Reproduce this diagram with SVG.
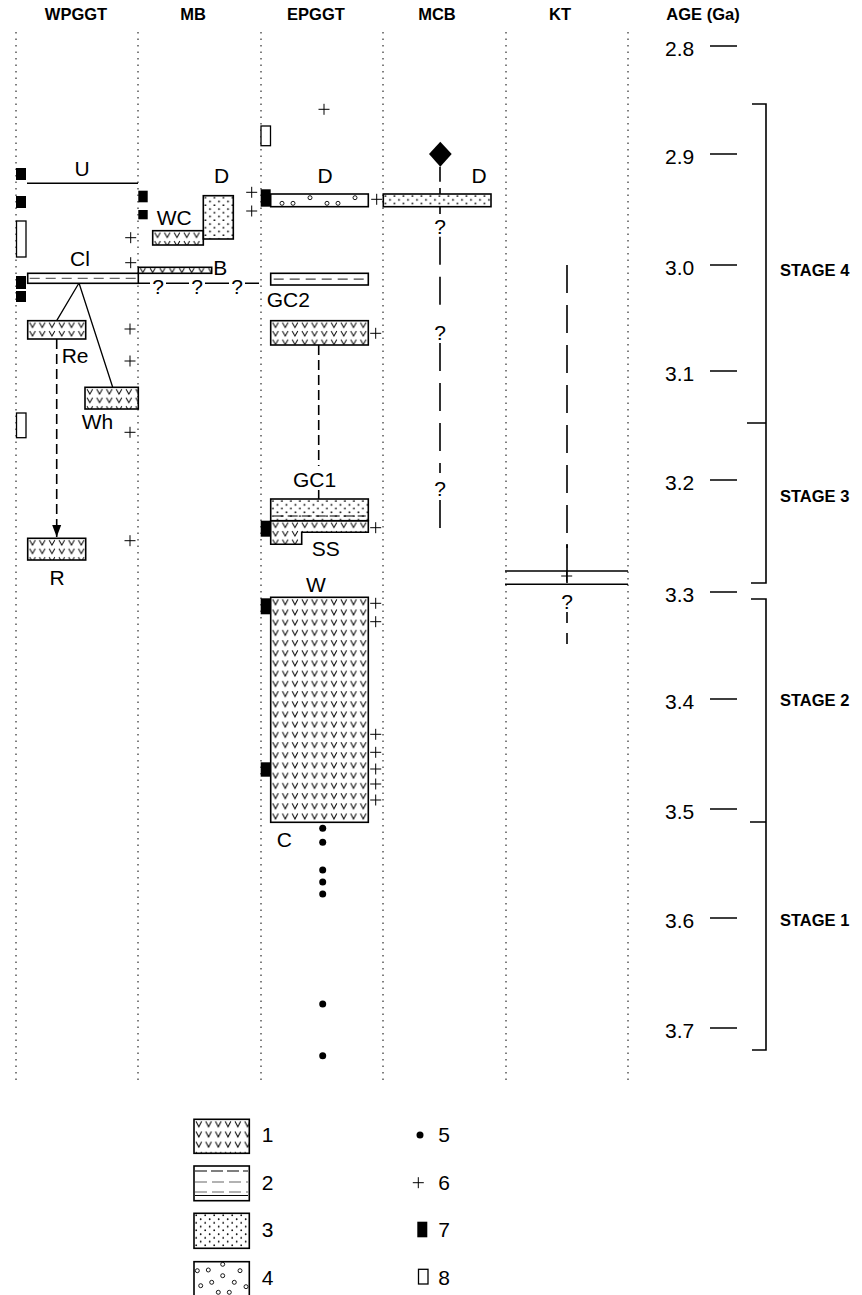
<svg xmlns="http://www.w3.org/2000/svg" width="862" height="1295" viewBox="0 0 862 1295">
<defs>
<style>
text{font-family:"Liberation Sans",Arial,Helvetica,sans-serif;fill:#000}
.h{font-size:16.5px;font-weight:bold;text-anchor:middle}
.st{font-size:16.5px;font-weight:bold}
.l{font-size:21px}
.m{text-anchor:middle}
.col{stroke:#000;stroke-width:1;stroke-dasharray:1.5 5;fill:none}
.bx{stroke:#000;stroke-width:1.6}
.ln{stroke:#000;stroke-width:1.3;fill:none}
.dl{stroke:#000;stroke-width:1.6;stroke-dasharray:10 5;fill:none}
.ld{stroke:#000;stroke-width:1.6;stroke-dasharray:28 12;fill:none}
.sl{stroke:#000;stroke-width:1.6;fill:none}
.k{fill:#000}
.o{fill:#fff;stroke:#000;stroke-width:1.3}
.gd{stroke:#666;stroke-width:1.3;stroke-dasharray:10 6;fill:none}
.cg{fill:none;stroke:#000;stroke-width:0.9}
</style>
<pattern id="va" patternUnits="userSpaceOnUse" width="9.75" height="10.2"><path d="M2,2 L4.8,7.5 L7.6,2" fill="none" stroke="#000" stroke-width="1"/></pattern>
<pattern id="vb" patternUnits="userSpaceOnUse" width="9.75" height="8.5"><path d="M2,1.8 L4.8,6.8 L7.6,1.8" fill="none" stroke="#000" stroke-width="1"/></pattern>
<pattern id="vc" patternUnits="userSpaceOnUse" width="9.75" height="6"><path d="M2,0.8 L4.6,5.2 L7.2,0.8" fill="none" stroke="#000" stroke-width="1"/></pattern>
<pattern id="dt" patternUnits="userSpaceOnUse" width="9" height="7.5"><circle cx="2.2" cy="2" r="0.9" fill="#000"/><circle cx="6.7" cy="5.8" r="0.9" fill="#000"/></pattern>
<path id="pl" d="M-5.5,0H5.5M0,-5.5V5.5" stroke="#000" stroke-width="1" fill="none"/>
<marker id="ar" markerUnits="userSpaceOnUse" markerWidth="12" markerHeight="10" viewBox="0 -5 12 10" refX="12" refY="0" orient="auto"><path d="M0,-4.5L12,0L0,4.5Z" fill="#000"/></marker>
</defs>
<rect width="862" height="1295" fill="#fff"/>

<g id="headers">
<text class="h" x="76" y="20">WPGGT</text>
<text class="h" x="193" y="20">MB</text>
<text class="h" x="316" y="20">EPGGT</text>
<text class="h" x="437" y="20">MCB</text>
<text class="h" x="560" y="20">KT</text>
<text class="h" x="703" y="20">AGE (Ga)</text>
</g>

<g id="columns">
<line class="col" x1="16" y1="32" x2="16" y2="1082"/>
<line class="col" x1="138" y1="32" x2="138" y2="1082"/>
<line class="col" x1="261" y1="32" x2="261" y2="1082"/>
<line class="col" x1="383" y1="32" x2="383" y2="1082"/>
<line class="col" x1="506" y1="32" x2="506" y2="1082"/>
<line class="col" x1="628" y1="32" x2="628" y2="1082"/>
</g>

<g id="age-axis">
<g class="l">
<text x="665" y="56">2.8</text>
<text x="665" y="164">2.9</text>
<text x="665" y="275">3.0</text>
<text x="665" y="381">3.1</text>
<text x="665" y="490">3.2</text>
<text x="665" y="602">3.3</text>
<text x="665" y="709">3.4</text>
<text x="665" y="819">3.5</text>
<text x="665" y="928">3.6</text>
<text x="665" y="1038">3.7</text>
</g>
<path class="sl" d="M710,46H737M710,154H737M710,265H737M710,371H737M710,480H737M710,592H737M710,699H737M710,809H737M710,918H737M710,1028H737"/>
</g>

<g id="stages">
<path class="sl" d="M752,104H766V583H751M747,423H766"/>
<path class="sl" d="M751,599H766V1050H752M750,822H766"/>
<text class="st" x="780" y="276">STAGE 4</text>
<text class="st" x="780" y="502">STAGE 3</text>
<text class="st" x="780" y="706">STAGE 2</text>
<text class="st" x="780" y="926">STAGE 1</text>
</g>

<g id="connectors">
<path class="ln" d="M79,283L56.7,320.7M79,283L112.7,387.3"/>
<path class="dl" d="M56.7,339V537" marker-end="url(#ar)"/>
<path class="dl" d="M318.7,345V466"/>
<path class="sl" d="M318.7,490V499"/>
<path class="sl" d="M138,283.3H150M166,283.3H189M205,283.3H229M245,283.3H259"/>
<path class="sl" d="M440,166.7V181.7M440,188V194M440,206.7V214M440,500V528"/>
<path class="ld" d="M440,236.7V316M440,343V473"/>
<path class="ld" d="M567,265V548"/>
<path class="sl" d="M567,544V583"/>
<path class="sl" d="M505,571H628M505,584.3H628"/>
<path class="ld" d="M567,612V648" style="stroke-dasharray:11 10"/>
</g>

<g id="question-marks" class="l m">
<text x="158" y="294">?</text>
<text x="197" y="294">?</text>
<text x="237" y="294">?</text>
<text x="440" y="234">?</text>
<text x="440" y="340">?</text>
<text x="440" y="496">?</text>
<text x="567" y="609">?</text>
</g>

<g id="wpggt-U"><path class="sl" d="M27,183.3H138"/><text class="l m" x="82" y="176">U</text></g>
<g id="wpggt-Cl" transform="translate(27.7,273.3)"><rect class="bx" width="110.6" height="10" fill="#fff"/><path class="gd" d="M2,5H108"/></g>
<text id="lbl-Cl" class="l m" x="80" y="266">Cl</text>
<g id="wpggt-Re" transform="translate(27.7,320.7)"><rect class="bx" width="58" height="18.3" fill="url(#vb)"/><text class="l" x="34" y="42.5">Re</text></g>
<g id="wpggt-Wh" transform="translate(85,387.3)"><rect class="bx" width="53.3" height="21.7" fill="url(#vb)"/><text class="l" x="-3.3" y="41.7">Wh</text></g>
<g id="wpggt-R" transform="translate(27.7,538.3)"><rect class="bx" width="58" height="21.7" fill="url(#vb)"/><text class="l m" x="29.3" y="46.7">R</text></g>

<g id="mb-WC" transform="translate(152.7,230.7)"><rect class="bx" width="50.6" height="14.3" fill="url(#vb)"/><text class="l" x="4" y="-5.7">WC</text></g>
<g id="mb-D" transform="translate(203.3,195.7)"><rect class="bx" width="30" height="43.3" fill="url(#dt)"/><text class="l m" x="18.4" y="-13">D</text></g>
<g id="mb-B" transform="translate(138.3,267.3)"><rect class="bx" width="73.4" height="6" fill="url(#vc)"/><text class="l" x="75" y="7.7">B</text></g>

<g id="epggt-D" transform="translate(270.7,194)"><rect class="bx" width="97.6" height="12.7" fill="#fff"/>
<g class="cg"><circle cx="11.3" cy="9.3" r="2"/><circle cx="22.3" cy="9.3" r="2"/><circle cx="39.3" cy="3.7" r="2"/><circle cx="56.3" cy="9.3" r="2"/><circle cx="67.3" cy="9.3" r="2"/><circle cx="84.3" cy="3.7" r="2"/></g>
<text class="l m" x="54.3" y="-11.3">D</text></g>
<g id="epggt-GC2" transform="translate(270.7,273.3)"><rect class="bx" width="97.6" height="11.7" fill="#fff"/><path class="gd" d="M3,5.8H95" style="stroke:#444"/><text class="l" x="-4" y="33.4">GC2</text></g>
<g id="epggt-GC2v" transform="translate(270.7,320.7)"><rect class="bx" width="97.6" height="24.3" fill="url(#vb)"/></g>
<g id="epggt-GC1" transform="translate(270.7,499)"><rect class="bx" width="97.6" height="21.7" fill="url(#dt)"/><path d="M3,17H95" stroke="#000" stroke-width="1" stroke-dasharray="10 4"/><text class="l m" x="43.8" y="-12.3">GC1</text></g>
<g id="epggt-SS" transform="translate(270.7,520.7)"><path class="bx" d="M0,0H97.6V11.6H31V23.6H0Z" fill="url(#vb)"/><text class="l" x="41" y="35.3">SS</text></g>
<g id="epggt-W" transform="translate(270.7,597.3)"><rect class="bx" width="97.6" height="225" fill="url(#va)"/><text class="l m" x="45.3" y="-5.6">W</text></g>
<g id="epggt-C"><text class="l" x="276.7" y="847">C</text>
<g class="k"><circle cx="322.7" cy="828.3" r="3.5"/><circle cx="322.7" cy="842.3" r="3.5"/><circle cx="322.7" cy="870" r="3.5"/><circle cx="322.7" cy="882" r="3.5"/><circle cx="322.7" cy="894" r="3.5"/><circle cx="322.7" cy="1004" r="3.5"/><circle cx="322.7" cy="1055.7" r="3.5"/></g></g>

<g id="mcb-D" transform="translate(383.3,194)"><rect class="bx" width="107.7" height="12.7" fill="url(#dt)"/><text class="l m" x="95.7" y="-11.3">D</text></g>
<g id="mcb-diamond"><path d="M440.3,141.7L451.7,154L440.3,166.7L429,154Z" fill="#000"/></g>

<g id="markers-7" class="k">
<rect x="16" y="168" width="10" height="12"/>
<rect x="16" y="196" width="10" height="12"/>
<rect x="16" y="276" width="10" height="13"/>
<rect x="16" y="291" width="10" height="11"/>
<rect x="138.3" y="190.7" width="9.4" height="11.6"/>
<rect x="138.3" y="210" width="9.4" height="9.3"/>
<rect x="260.7" y="189.3" width="10" height="17.4"/>
<rect x="260.7" y="520.7" width="10" height="16"/>
<rect x="260.7" y="598.3" width="10" height="16"/>
<rect x="260.7" y="762.3" width="10" height="14.4"/>
</g>
<g id="markers-8">
<rect class="o" x="16.5" y="221" width="9.5" height="36"/>
<rect class="o" x="16.5" y="413" width="9.5" height="24.7"/>
<rect class="o" x="261" y="126" width="9.5" height="19.7"/>
</g>
<g id="markers-6">
<use href="#pl" x="130.7" y="237.7"/><use href="#pl" x="130.7" y="262.7"/>
<use href="#pl" x="130" y="329"/><use href="#pl" x="130" y="361"/><use href="#pl" x="130" y="432.3"/><use href="#pl" x="130" y="540.7"/>
<use href="#pl" x="251.7" y="192.3"/><use href="#pl" x="251.7" y="211"/>
<use href="#pl" x="324" y="109.3"/><use href="#pl" x="376.7" y="199.3"/><use href="#pl" x="375.7" y="333.3"/><use href="#pl" x="375.7" y="527.7"/>
<use href="#pl" x="375.7" y="603.3"/><use href="#pl" x="375.7" y="621.7"/>
<use href="#pl" x="375.7" y="734.3"/><use href="#pl" x="375.7" y="752.3"/><use href="#pl" x="375.7" y="769"/><use href="#pl" x="375.7" y="784"/><use href="#pl" x="375.7" y="800"/>
<use href="#pl" x="566.7" y="576"/>
</g>

<g id="legend">
<g id="leg-1" transform="translate(194,1119.3)"><rect class="bx" width="55.3" height="34" fill="url(#va)"/><text class="l" x="67.7" y="23">1</text></g>
<g id="leg-2" transform="translate(194,1166)"><rect class="bx" width="55.3" height="34.7" fill="#fff"/>
<path d="M1,5H54" stroke="#000" stroke-width="1.2" stroke-dasharray="12 4"/>
<path d="M1,16H54" stroke="#666" stroke-width="1.2" stroke-dasharray="12 5"/>
<path d="M1,26H54" stroke="#666" stroke-width="1.2" stroke-dasharray="12 5"/>
<path d="M1,29.5H54" stroke="#000" stroke-width="1"/>
<text class="l" x="67.7" y="24">2</text></g>
<g id="leg-3" transform="translate(194,1213.3)"><rect class="bx" width="55.3" height="35" fill="url(#dt)"/><text class="l" x="67.7" y="23.4">3</text></g>
<g id="leg-4" transform="translate(194,1261.7)"><rect class="bx" width="55.3" height="36" fill="#fff"/>
<g class="cg"><circle cx="3.3" cy="9" r="2"/><circle cx="14.3" cy="8.3" r="2"/><circle cx="28.7" cy="2.6" r="2"/><circle cx="46" cy="9" r="2"/><circle cx="28.7" cy="14" r="2"/><circle cx="17.7" cy="20.6" r="2"/><circle cx="6.7" cy="24" r="2"/><circle cx="40.3" cy="20.6" r="2"/><circle cx="52" cy="25" r="2"/><circle cx="24.3" cy="30.6" r="2"/><circle cx="35.3" cy="30.6" r="2"/></g>
<text class="l" x="67.7" y="23.3">4</text></g>
<g id="leg-5"><circle class="k" cx="420" cy="1135" r="3.5"/><text class="l" x="438.3" y="1142.3">5</text></g>
<g id="leg-6"><use href="#pl" x="418.3" y="1182.7"/><text class="l" x="438.3" y="1190">6</text></g>
<g id="leg-7"><rect class="k" x="417.3" y="1221.7" width="10" height="15.6"/><text class="l" x="438.3" y="1236.7">7</text></g>
<g id="leg-8"><rect class="o" x="418.5" y="1269.3" width="9.5" height="14.7"/><text class="l" x="438.3" y="1285">8</text></g>
</g>
</svg>
